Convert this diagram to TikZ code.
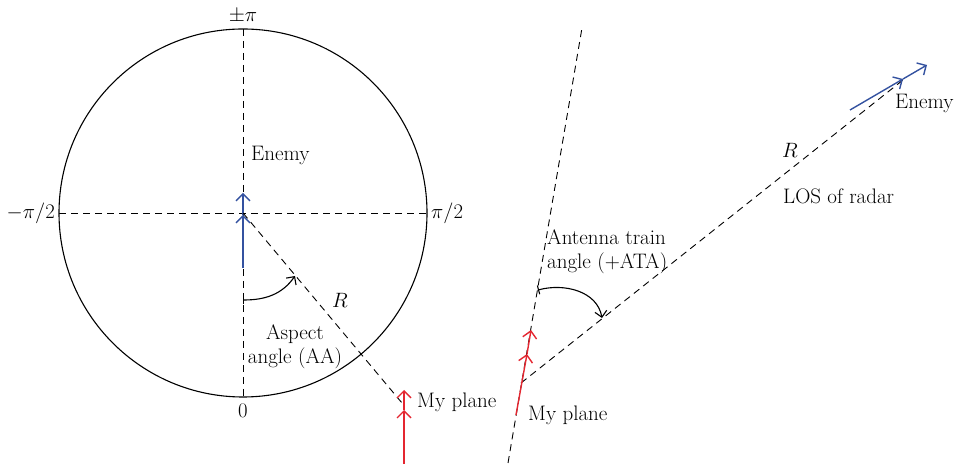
\documentclass[tikz,border=0pt]{standalone}
\usetikzlibrary{arrows.meta,positioning}
\definecolor{enemyblue}{RGB}{52,82,160}
\definecolor{planered}{RGB}{228,38,48}
\tikzset{
  losline/.style={dash pattern=on 7pt off 5pt, line width=0.9pt},
  jet/.style={line width=1.4pt, -{Straight Barb[length=7pt,width=14pt]}},
  anglearc/.style={line width=1.1pt, {Bar[width=9pt]}-{Straight Barb[length=6pt,width=12pt]}},
  lbl/.style={font=\fontsize{21}{24}\selectfont, inner sep=1pt},
}
\begin{document}
\begin{tikzpicture}[x=1pt, y=1pt]
  \def\R{184}
  \useasboundingbox (0,0) rectangle (958,468);
  % aspect angle
  \coordinate (O) at (243,255);
  \coordinate (N) at (243,439);
  \coordinate (S) at (243,71);
  \coordinate (W) at (59,255);
  \coordinate (E) at (427,255);
  \draw[line width=1.1pt] (O) circle [radius=\R];
  \draw[losline] (N) -- (S);
  \draw[losline] (W) -- (E);
  \node[lbl, above=5pt of N] (pm) {$\pm\pi$};
  \node[lbl, below=6pt of S] (zero) {$0$};
  \node[lbl, left=3pt of W] (mhalf) {$-\pi/2$};
  \node[lbl, right=3pt of E] (phalf) {$\pi/2$};
  \coordinate (e0) at (243,200);
  \coordinate (e1) at (243,253);
  \coordinate (e2) at (243,275);
  \draw[jet, enemyblue] (e0) -- (e1);
  \draw[jet, enemyblue] (e1) -- (e2);
  \node[lbl, anchor=west] (enemyA) at (250,313) {Enemy};
  \coordinate (me) at (402,65);
  \draw[losline] (O) -- (me);
  \node[lbl] (rA) at (340,168) {$R$};
  \coordinate (aa0) at (243,168);
  \coordinate (aa1) at (295,192);
  \draw[anglearc] (aa0) to[out=0, in=235] (aa1);
  \node[lbl, align=center] (aaText) at (295,121) {Aspect\\angle (AA)};
  \coordinate (p0) at (404,4);
  \coordinate (p1) at (404,58);
  \coordinate (p2) at (404,78);
  \draw[jet, planered] (p0) -- (p1);
  \draw[jet, planered] (p1) -- (p2);
  \node[lbl, anchor=west] (planeA) at (416,66) {My plane};
  % antenna train angle
  \coordinate (h0) at (508,5);
  \coordinate (h1) at (582,440);
  \coordinate (x) at (521,85);
  \coordinate (t) at (903,388);
  \draw[losline] (h0) -- (h1);
  \draw[losline] (x) -- (t);
  \coordinate (q0) at (516,53);
  \coordinate (q1) at (527,114);
  \coordinate (q2) at (531,138);
  \draw[jet, planered] (q0) -- (q1);
  \draw[jet, planered] (q1) -- (q2);
  \node[lbl, anchor=west] (planeB) at (527,53) {My plane};
  \coordinate (b0) at (850,358);
  \coordinate (b1) at (903,389);
  \coordinate (b2) at (927,403);
  \draw[jet, enemyblue] (b0) -- (b1);
  \draw[jet, enemyblue] (b1) -- (b2);
  \node[lbl, anchor=west] (enemyB) at (894,365) {Enemy};
  \node[lbl] (rB) at (790,318) {$R$};
  \node[lbl, anchor=west] (los) at (782,272) {LOS of radar};
  \coordinate (ta0) at (538,178);
  \coordinate (ta1) at (602,150);
  \draw[anglearc] (ta0) to[out=15, in=100] (ta1);
  \node[lbl, anchor=west, align=left] (ataText) at (546,216) {Antenna train\\angle (+ATA)};
\end{tikzpicture}
\end{document}
